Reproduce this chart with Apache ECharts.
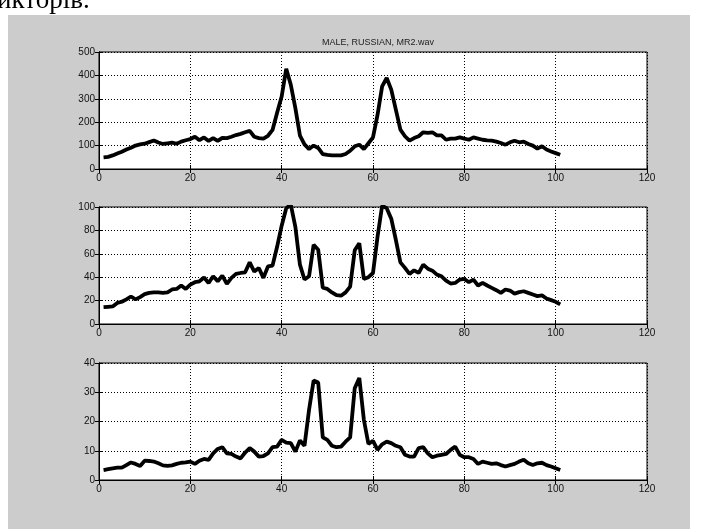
<!DOCTYPE html>
<html lang="uk">
<head>
<meta charset="UTF-8">
<title>MALE, RUSSIAN, MR2.wav</title>
<script src="https://cdn.jsdelivr.net/npm/echarts@6/dist/echarts.min.js"></script>
<style>
    html, body { margin: 0; padding: 0; background: #fff; }
    #main { width: 702px; height: 529px; }
</style>
</head>
<body>
<div id="main"></div>
<script>
    // значення трьох кривих (відлік 1..101)
    var amp1 = [50, 52, 58, 66, 74, 83, 91, 100, 105, 108,
        115, 122, 113, 107, 110, 113, 108, 117, 123, 128,
        138, 123, 135, 120, 132, 120, 133, 132, 138, 145,
        150, 157, 163, 138, 132, 130, 142, 167, 240, 310,
        428, 360, 260, 143, 105, 85, 100, 90, 64, 60,
        58, 58, 58, 64, 78, 97, 104, 85, 110, 135,
        232, 353, 389, 339, 254, 168, 140, 121, 132, 140,
        157, 154, 157, 144, 144, 125, 130, 130, 135, 130,
        125, 135, 130, 125, 122, 121, 117, 111, 104, 114,
        121, 114, 117, 107, 100, 87, 97, 83, 75, 68, 61];
    var amp2 = [14.4, 14.7, 15, 18, 19, 21, 23.5, 21, 23, 25.5,
        26.6, 27, 27, 26.6, 27, 29.5, 30, 33, 30, 33.7,
        35.7, 36.5, 39.7, 35, 40.8, 36.5, 41.4, 34.3, 39.4, 42.8,
        43.6, 44.2, 52.7, 44.8, 47.9, 39.4, 49.2, 49.9, 66, 84,
        99, 102, 83, 50.7, 38, 40.8, 67.7, 63.5, 31, 30,
        27, 24.6, 24.2, 27, 32, 63, 69, 38.5, 40, 43.6,
        74.8, 101, 99, 90, 72, 52.7, 48, 42.8, 45.9, 43.6,
        50.7, 47.3, 45.6, 42.2, 40.8, 37.1, 34.6, 35.1, 38, 38.5,
        35.7, 38, 32.9, 35.1, 32.9, 30.9, 28.9, 26.6, 29.5, 28.6,
        26, 27.2, 28, 26.6, 25.2, 23.8, 24.4, 21.8, 20.4, 19, 16.7];
    var amp3 = [3.4, 3.7, 4, 4.2, 4.2, 5.1, 6, 5.5, 4.8, 6.6,
        6.5, 6.3, 5.7, 5, 4.8, 5, 5.5, 5.9, 6, 6.3,
        5.5, 6.6, 7.2, 6.9, 9.1, 10.6, 11.2, 9.1, 8.9, 8,
        7.4, 9.4, 10.9, 9.7, 8, 8.2, 9.1, 11.2, 11.4, 13.7,
        12.8, 12.6, 9.7, 13.5, 11.7, 24, 34, 33.3, 14.6, 13.7,
        11.7, 11.2, 11.4, 13.1, 14.6, 31.4, 34.9, 20.6, 12.3, 13.4,
        10.3, 12.2, 13.1, 12.6, 11.7, 11.2, 8.6, 8, 8, 10.9,
        11.2, 9.1, 7.8, 8.3, 8.6, 8.9, 10.3, 11.4, 8.6, 7.8,
        7.8, 7.2, 5.5, 6.3, 5.9, 5.5, 5.7, 5.1, 4.6, 5.1,
        5.5, 6.3, 6.9, 5.7, 5.1, 5.7, 5.9, 5.1, 4.6, 4, 3.4];

    var yMax = [500, 100, 40];
    var yStep = [100, 20, 10];
    var xMax = 120;
    var xStep = 20;
    var title = 'MALE, RUSSIAN, MR2.wav';

    var tops = [52, 207, 363];
    var font = 'Liberation Sans, Arial, sans-serif';

    var myChart = echarts.init(document.getElementById('main'));

    function pairs(arr) {
        var out = [];
        for (var i = 0; i < arr.length; i++) {
            out.push([i + 1, arr[i]]);
        }
        return out;
    }

    var grids = [], xAxes = [], yAxes = [], series = [];
    var all = [amp1, amp2, amp3];
    for (var k = 0; k < 3; k++) {
        grids.push({
            left: 99, top: tops[k], width: 548, height: 117,
            show: true, backgroundColor: '#fff', borderColor: '#000', borderWidth: 1
        });
        xAxes.push({
            type: 'value', gridIndex: k, min: 0, max: xMax, interval: xStep, position: 'bottom',
            axisLine: { show: true, lineStyle: { color: '#000' } },
            axisTick: { show: true, inside: true, length: 4, lineStyle: { color: '#000' } },
            axisLabel: { color: '#111', fontSize: 10, fontFamily: font, margin: 4 },
            splitLine: { show: true, lineStyle: { color: '#000', type: [1, 2], width: 1 } }
        });
        xAxes.push({
            type: 'value', gridIndex: k, min: 0, max: xMax, interval: xStep, position: 'top',
            axisLine: { show: true, lineStyle: { color: '#000' } },
            axisTick: { show: true, inside: true, length: 4, lineStyle: { color: '#000' } },
            axisLabel: { show: false },
            splitLine: { show: false }
        });
        yAxes.push({
            type: 'value', gridIndex: k, min: 0, max: yMax[k], interval: yStep[k], position: 'left',
            axisLine: { show: true, lineStyle: { color: '#000' } },
            axisTick: { show: true, inside: true, length: 4, lineStyle: { color: '#000' } },
            axisLabel: { color: '#111', fontSize: 10, fontFamily: font, margin: 4 },
            splitLine: { show: true, lineStyle: { color: '#000', type: [1, 2], width: 1 } }
        });
        yAxes.push({
            type: 'value', gridIndex: k, min: 0, max: yMax[k], interval: yStep[k], position: 'right',
            axisLine: { show: true, lineStyle: { color: '#000' } },
            axisTick: { show: true, inside: true, length: 4, lineStyle: { color: '#000' } },
            axisLabel: { show: false },
            splitLine: { show: false }
        });
        series.push({
            type: 'line', xAxisIndex: 2 * k, yAxisIndex: 2 * k,
            data: pairs(all[k]), showSymbol: false, symbol: 'none',
            lineStyle: { color: '#000', width: 3.8 },
            clip: true, animation: false
        });
    }

    var option = {
        backgroundColor: '#fff',
        animation: false,
        title: {
            text: title, left: 373, top: 33, textAlign: 'center',
            textStyle: { fontSize: 9, fontWeight: 'normal', color: '#222', fontFamily: font }
        },
        graphic: [
            { type: 'rect', z: -10, shape: { x: 8, y: 15, width: 682, height: 514 }, style: { fill: '#cccccc' } },
            { type: 'text', left: -3, top: -13, style: { text: 'икторів.', font: '27px "Liberation Serif", "Times New Roman", serif', fill: '#000' } }
        ],
        grid: grids,
        xAxis: xAxes,
        yAxis: yAxes,
        series: series
    };

    myChart.setOption(option);
</script>
</body>
</html>
